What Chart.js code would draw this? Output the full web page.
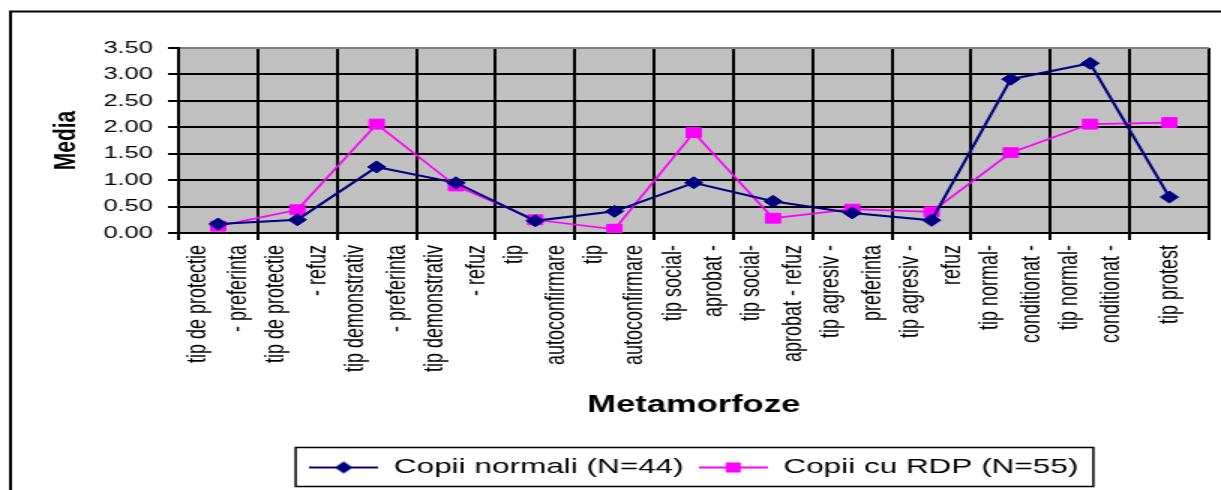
<!DOCTYPE html>
<html>
<head>
<meta charset="utf-8">
<script src="https://cdn.jsdelivr.net/npm/chart.js@4.4.1/dist/chart.umd.min.js"></script>
<style>
  html, body { margin: 0; padding: 0; background: #fff; }
  #c { display: block; }
</style>
</head>
<body>
<!-- drawn at 814px wide and shown at 1221px, like the stretched original -->
<canvas id="c" width="814" height="490" style="width:1221px;height:490px"></canvas>
<script>
// categories (as they appear wrapped in the original)
const categories = [
  ['tip de protectie', '- preferinta'],
  ['tip de protectie', '- refuz'],
  ['tip demonstrativ', '- preferinta'],
  ['tip demonstrativ', '- refuz'],
  ['tip', 'autoconfirmare'],
  ['tip', 'autoconfirmare'],
  ['tip social-', 'aprobat -'],
  ['tip social-', 'aprobat - refuz'],
  ['tip agresiv -', 'preferinta'],
  ['tip agresiv -', 'refuz'],
  ['tip normal-', 'conditionat -'],
  ['tip normal-', 'conditionat -'],
  ['', 'tip protest']
];
const normali = [0.17, 0.25, 1.25, 0.95, 0.23, 0.41, 0.95, 0.60, 0.38, 0.24, 2.91, 3.21, 0.68];
const rdp = [0.13, 0.44, 2.06, 0.89, 0.25, 0.07, 1.90, 0.28, 0.45, 0.40, 1.52, 2.06, 2.09];
const seriesNames = ['Copii normali (N=44)', 'Copii cu RDP (N=55)'];
const yTicks = [0, 0.5, 1, 1.5, 2, 2.5, 3, 3.5];

const NAVY = '#000080';
const MAGENTA = '#ff00ff';
const FONT = "'Liberation Sans', Arial, sans-serif";
const LH = 27.7; // spacing between the two lines of a rotated label

// little line+marker images for the legend
function legendSample(color, shape) {
  const c = document.createElement('canvas');
  c.width = 46; c.height = 16;
  const g = c.getContext('2d');
  g.strokeStyle = color;
  g.lineWidth = 2;
  g.beginPath(); g.moveTo(0, 8); g.lineTo(46, 8); g.stroke();
  g.fillStyle = color;
  if (shape === 'diamond') {
    g.beginPath();
    g.moveTo(23 - 6, 8); g.lineTo(23, 2); g.lineTo(23 + 6, 8); g.lineTo(23, 14);
    g.closePath(); g.fill();
  } else {
    g.fillRect(18, 3, 10, 10);
  }
  return c;
}
const samples = [legendSample(NAVY, 'diamond'), legendSample(MAGENTA, 'square')];

const decor = {
  id: 'decor',
  beforeDraw(chart) {
    const {ctx, chartArea: a} = chart;
    ctx.save();
    ctx.fillStyle = '#c0c0c0';
    ctx.fillRect(a.left, a.top, a.right - a.left, a.bottom - a.top);
    // outer frame of the chart object
    ctx.strokeStyle = '#000';
    ctx.lineWidth = 2;
    ctx.beginPath();
    ctx.moveTo(7, 600); ctx.lineTo(7, 11.5); ctx.lineTo(900, 11.5);
    ctx.stroke();
    ctx.restore();
  },
  afterDraw(chart) {
    const lg = chart.legend;
    const hb = lg.legendHitBoxes;
    if (!hb || !hb.length) return;
    const last = hb[hb.length - 1];
    const l = hb[0].left - 9;
    const r = last.left + last.width + 10;
    const ctx = chart.ctx;
    ctx.save();
    ctx.strokeStyle = '#000';
    ctx.lineWidth = 1.5;
    ctx.strokeRect(l, lg.top + 0.5, r - l, lg.bottom - lg.top - 2);
    ctx.restore();
  }
};

new Chart(document.getElementById('c').getContext('2d'), {
  type: 'line',
  data: {
    labels: categories,
    datasets: [
      {
        label: seriesNames[0],
        data: normali,
        borderColor: NAVY,
        backgroundColor: NAVY,
        borderWidth: 2,
        pointStyle: 'rectRot',
        pointRadius: 6,
        pointBorderWidth: 1,
        tension: 0,
        fill: false
      },
      {
        label: seriesNames[1],
        data: rdp,
        borderColor: MAGENTA,
        backgroundColor: MAGENTA,
        borderWidth: 1.7,
        pointStyle: 'rect',
        pointRadius: 7,
        pointBorderWidth: 1,
        tension: 0,
        fill: false
      }
    ]
  },
  options: {
    responsive: false,
    animation: false,
    devicePixelRatio: 1,
    layout: { padding: { left: 7, top: 48, right: 6, bottom: 2 } },
    plugins: {
      tooltip: { enabled: false },
      legend: {
        position: 'bottom',
        fullSize: false,
        labels: {
          usePointStyle: true,
          pointStyleWidth: 46,
          padding: 10,
          color: '#000',
          font: { family: FONT, size: 21 },
          generateLabels(chart) {
            const items = Chart.defaults.plugins.legend.labels.generateLabels(chart);
            items.forEach((it, i) => { it.pointStyle = samples[i]; });
            return items;
          }
        }
      }
    },
    scales: {
      x: {
        offset: true,
        grid: {
          offset: true,
          color: (c) => c.index === categories.length ? '#808080' : '#000',
          tickColor: '#000',
          lineWidth: 2,
          tickLength: 7
        },
        border: { color: '#000', width: 2 },
        ticks: {
          autoSkip: false,
          minRotation: 90,
          maxRotation: 90,
          padding: 5,
          labelOffset: -LH / 2,
          color: '#000',
          font: (c) => ({ family: FONT, size: 18,
            lineHeight: (c.index === categories.length - 1 ? LH / 2 : LH) + 'px' })
        },
        title: {
          display: true,
          text: 'Metamorfoze',
          color: '#000',
          font: { family: FONT, size: 23, weight: 'bold' },
          padding: { top: 0, bottom: 28 }
        },
        afterFit(scale) { scale.height = 214; }
      },
      y: {
        min: 0,
        max: 3.5,
        afterBuildTicks(scale) { scale.ticks = yTicks.map(v => ({ value: v })); },
        grid: {
          color: (c) => c.tick && c.tick.value === 3.5 ? '#808080' : '#000',
          tickColor: '#000',
          lineWidth: 2,
          tickLength: 7
        },
        border: { color: '#000', width: 2 },
        ticks: {
          padding: 10,
          color: '#000',
          font: { family: FONT, size: 17 },
          callback: (v) => Number(v).toFixed(2)
        },
        title: {
          display: true,
          text: 'Media',
          color: '#000',
          font: { family: FONT, size: 21, weight: 'bold' },
          padding: { top: 25, bottom: 0 }
        },
        afterFit(scale) { scale.width = 112; }
      }
    }
  },
  plugins: [decor]
});
</script>
</body>
</html>
